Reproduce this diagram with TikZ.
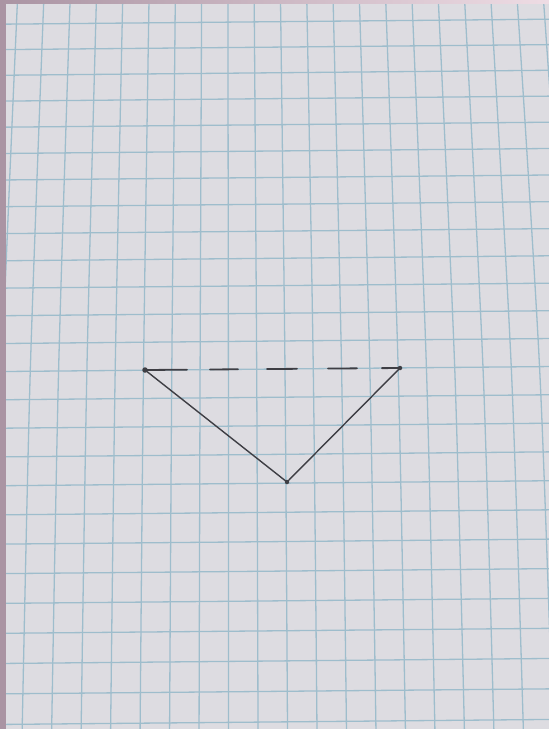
\documentclass[tikz,border=0pt]{standalone}
\usetikzlibrary{positioning}

\definecolor{paper}{RGB}{221,220,225}
\definecolor{gridblue}{RGB}{158,189,204}
\definecolor{frame}{RGB}{170,148,163}
\definecolor{framelight}{RGB}{238,220,228}
\definecolor{pencil}{RGB}{62,62,68}

\begin{document}
\begin{tikzpicture}[x=1pt, y=-1pt,
    gridline/.style={gridblue, line width=1.3pt},
    pencilline/.style={pencil, line width=1.4pt, line cap=round},
    vertex/.style={circle, fill=pencil, inner sep=0pt, minimum size=4.5pt}]
    % Paper sheet
    \clip (0,0) rectangle (549,729);
    \fill[paper] (0,0) rectangle (549,729);

    % Vertical grid lines, spread by the photo's perspective
    \foreach \n in {0,...,20} {
        \pgfmathsetmacro{\xt}{17.5+26.3*\n}
        \pgfmathsetmacro{\xm}{2+28.3*\n}
        \pgfmathsetmacro{\xb}{-7.3+29.48*\n}
        \draw[gridline] plot[smooth] coordinates {(\xt,0) (\xm,370) (\xb,729)};
    }

    % Horizontal grid lines
    \foreach \m in {0,...,25} {
        \pgfmathsetmacro{\yy}{21.7+25.32*\m+0.1076*\m*\m}
        \draw[gridline] (0,\yy+2.5) -- (549,\yy-2.5);
    }

    % Frame edges of the photo
    \fill[frame] (0,0) rectangle (6,729);
    \shade[left color=frame, right color=framelight] (0,0) rectangle (549,3);

    % Triangle corners
    \node[vertex, minimum size=5.5pt] (A) at (145,370) {};
    \node[vertex] (B) at (400,368) {};
    \node[vertex] (C) at (287,482) {};

    % Sides
    \draw[pencilline, line width=1.8pt,
        dash pattern=on 42pt off 23pt on 28pt off 29pt on 30pt off 31pt on 29pt off 25pt on 40pt]
        (A.center) -- (B.center);
    \draw[pencilline] (A.center) -- (C.center);
    \draw[pencilline] (C.center) -- (B.center);
\end{tikzpicture}
\end{document}
